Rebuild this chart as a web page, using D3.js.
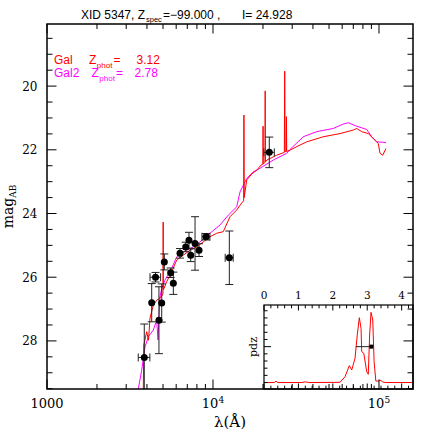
<!DOCTYPE html>
<html><head><meta charset="utf-8">
<script src="https://cdn.jsdelivr.net/npm/d3@7"></script>
<style>body{margin:0;background:#fff}svg{display:block}text{white-space:pre}</style>
</head><body><svg id="c" width="436" height="436"></svg>
<script>
// ---- photometry ----
const photWl    = [3855, 4274, 4505, 4725, 4909, 5090, 5560, 5768, 6327, 6848, 7168, 7340, 7795, 8238, 9080, 12540, 21830];
const photMag   = [28.52, 26.80, 26.00, 27.35, 26.81, 25.52, 25.86, 26.19, 25.25, 25.05, 24.84, 25.31, 24.94, 25.15, 24.73, 25.39, 22.08];
const photErr   = [1.05, 0.60, 0.15, 1.05, 0.60, 0.25, 0.15, 0.35, 0.15, 0.15, 0.25, 0.20, 0.84, 0.20, 0.10, 0.84, 0.48];
const photWlErr = [310, 0, 330, 0, 0, 0, 0, 0, 0, 0, 0, 0, 0, 0, 500, 700, 1580];

// ---- model Gal (red) ----
const galWl  = [3803,3830,3987,4088,4174,4369,4580,4748,4963,4995,5010,5025,5261,5640,6044,6624,7269,7977,8743,9592,10527,11535,12660,13890,14890,15300,15356,15420,15960,17105,18337,19465,19980,20027,20075,20560,20629,20700,21151,24190,26900,27040,27180,27600,27700,27800,29100,33430,36690,46180,58230,70000,73380,78660,86200,94600,99030,101400,105270,110200];
const galMag = [29.51,28.13,27.71,27.98,27.28,26.88,26.72,26.67,26.56,26.52,24.27,26.40,26.14,25.83,25.46,25.31,25.15,25.05,24.89,24.73,24.62,24.57,24.10,23.89,23.67,23.60,20.91,23.50,22.95,22.76,22.64,22.48,22.45,21.26,22.44,22.40,20.15,22.38,22.32,22.17,22.08,19.53,22.06,22.05,20.96,22.05,22.01,21.85,21.75,21.59,21.49,21.38,21.33,21.43,21.49,21.70,21.80,22.11,22.17,21.96];

// ---- model Gal2 (magenta) ----
const gal2Wl  = [3548,3720,3894,4076,4369,4580,4663,4709,4795,4909,5138,5640,6044,6942,7607,8351,9592,11020,12370,13890,14550,15960,17420,19190,23090,27800,29100,34990,42140,53050,60950,65340,73380,84330,90370,96850,110200];
const gal2Mag = [29.51,28.92,28.19,27.87,27.66,27.35,27.97,27.41,26.62,26.35,26.09,25.72,25.36,25.15,25.05,24.89,24.62,24.36,24.05,23.79,23.32,22.90,22.70,22.58,22.32,22.11,21.99,21.59,21.43,21.33,21.19,21.15,21.26,21.36,21.59,21.75,21.77];

// ---- pdz ----
const pdzZ = [0,0.30,0.35,0.40,1.10,1.20,1.30,2.21,2.355,2.48,2.55,2.645,2.71,2.77,2.82,2.84,2.90,2.985,3.03,3.07,3.11,3.16,3.20,3.25,3.32,3.37,3.45,3.52,4.33];
const pdzP = [0,0,0.02,0,0,0.01,0,0.003,0.081,0.235,0.175,0.338,0.662,0.903,0.755,0.43,0.407,0.151,0.115,0.662,0.978,0.871,0.29,0.021,0.02,0.035,0.01,0,0];
const zBest = 3.12, zLow = 2.67, zHigh = 3.15, zBarLevel = 0.5;

// ---- labels ----
const xMajor = [1000, 10000, 100000];
const xMajorLabels = [["1000",""],["10","4"],["10","5"]];
const yMajor = [20, 22, 24, 26, 28];
const insetMajor = [0, 1, 2, 3, 4];

const svg = d3.select("#c");
const L = 47, R = 413, T = 24, B = 389;
const x = d3.scaleLog().domain([1000, 160260]).range([L, R]);
const y = d3.scaleLinear().domain([18.05, 29.51]).range([T, B]);

const SERIF = "DejaVu Serif, serif", SANS = "Liberation Sans, Arial, sans-serif";

svg.append("clipPath").attr("id","clip").append("rect").attr("x",L).attr("y",T).attr("width",R-L).attr("height",B-T);
const plot = svg.append("g").attr("clip-path","url(#clip)");

const line = d3.line().x(d=>x(d[0])).y(d=>y(d[1]));
plot.append("path").datum(gal2Wl.map((w,i)=>[w,gal2Mag[i]])).attr("d",line)
  .attr("fill","none").attr("stroke","#ff00ff").attr("stroke-width",1);
plot.append("path").datum(galWl.map((w,i)=>[w,galMag[i]])).attr("d",line)
  .attr("fill","none").attr("stroke","#ff0000").attr("stroke-width",1);

// error bars + points
const ph = photWl.map((w,i)=>({w, m:photMag[i], e:photErr[i], we:photWlErr[i]}));
const eg = plot.append("g").attr("stroke","#222").attr("stroke-width",1);
ph.forEach(d=>{
  const cx = x(d.w), cy = y(d.m);
  if (d.e > 0) {
    eg.append("line").attr("x1",cx).attr("x2",cx).attr("y1",y(d.m-d.e)).attr("y2",y(d.m+d.e));
    eg.append("line").attr("x1",cx-4).attr("x2",cx+4).attr("y1",y(d.m-d.e)).attr("y2",y(d.m-d.e));
    eg.append("line").attr("x1",cx-4).attr("x2",cx+4).attr("y1",y(d.m+d.e)).attr("y2",y(d.m+d.e));
  }
  if (d.we > 0) {
    const x1 = x(d.w-d.we), x2 = x(d.w+d.we);
    eg.append("line").attr("x1",x1).attr("x2",x2).attr("y1",cy).attr("y2",cy);
    eg.append("line").attr("x1",x1).attr("x2",x1).attr("y1",cy-4).attr("y2",cy+4);
    eg.append("line").attr("x1",x2).attr("x2",x2).attr("y1",cy-4).attr("y2",cy+4);
  }
});
plot.append("g").selectAll("circle").data(ph).join("circle")
  .attr("cx",d=>x(d.w)).attr("cy",d=>y(d.m)).attr("r",3.5).attr("fill","#000");

// ---- inset ----
const IL = 264, IR = 413, IT = 305, IB = 389;
const xi = d3.scaleLinear().domain([0, 4.33]).range([IL, IR]);
const yi = d3.scaleLinear().domain([-0.09, 1.08]).range([IB, IT]);
svg.append("rect").attr("x",IL).attr("y",IT).attr("width",IR-IL).attr("height",IB-IT).attr("fill","#fff");
svg.append("path").datum(pdzZ.map((z,i)=>[z,pdzP[i]]))
  .attr("d", d3.line().x(d=>xi(d[0])).y(d=>yi(d[1])))
  .attr("fill","none").attr("stroke","#ff0000").attr("stroke-width",1);
svg.append("line").attr("x1",xi(zLow)).attr("x2",xi(zHigh)).attr("y1",yi(zBarLevel)).attr("y2",yi(zBarLevel))
  .attr("stroke","#222").attr("stroke-width",1);
svg.append("rect").attr("x",xi(zBest)-2).attr("y",yi(zBarLevel)-2).attr("width",4).attr("height",4).attr("fill","#000");
const it = svg.append("g").attr("stroke","#000").attr("stroke-width",1);
d3.range(0, 4.33, 0.2).forEach(v=>{
  const maj = Math.abs(v-Math.round(v))<1e-6;
  const len = maj ? 5.5 : 3.3, px = xi(v);
  it.append("line").attr("x1",px).attr("x2",px).attr("y1",IT).attr("y2",IT+len);
  it.append("line").attr("x1",px).attr("x2",px).attr("y1",IB).attr("y2",IB-len);
});
d3.range(0, 1.0001, 0.1).forEach(v=>{
  const maj = Math.abs(v-0.5)<1e-6;
  const len = maj ? 7 : 3.5, py = yi(v);
  it.append("line").attr("x1",IL).attr("x2",IL+len).attr("y1",py).attr("y2",py);
});
svg.append("rect").attr("x",IL).attr("y",IT).attr("width",IR-IL).attr("height",IB-IT)
  .attr("fill","none").attr("stroke","#000").attr("stroke-width",1.2);
svg.append("g").selectAll("text").data(insetMajor).join("text")
  .attr("x",d=>xi(d)).attr("y",298.5).attr("text-anchor","middle")
  .attr("font-family",SERIF).attr("font-size",10.5).text(d=>d);
svg.append("text").attr("transform","translate(256.5,347) rotate(-90)").attr("text-anchor","middle")
  .attr("font-family",SERIF).attr("font-size",11).text("pdz");

// ---- main ticks & frame ----
const tg = svg.append("g").attr("stroke","#000").attr("stroke-width",1);
[1000,10000,100000].forEach(dec=>{
  for (let k=1;k<=9;k++){
    const v = k*dec; if (v > 160260) break;
    const px = x(v), len = k===1 ? 9.5 : 5;
    tg.append("line").attr("x1",px).attr("x2",px).attr("y1",B).attr("y2",B-len);
    tg.append("line").attr("x1",px).attr("x2",px).attr("y1",T).attr("y2",T+len);
  }
});
d3.range(18.5, 29.51, 0.5).forEach(v=>{
  const maj = Math.abs(v/2-Math.round(v/2))<1e-6;
  const len = maj ? 9.5 : 5.5, py = y(v);
  tg.append("line").attr("x1",L).attr("x2",L+len).attr("y1",py).attr("y2",py);
  tg.append("line").attr("x1",R).attr("x2",R-len).attr("y1",py).attr("y2",py);
});
svg.append("rect").attr("x",L).attr("y",T).attr("width",R-L).attr("height",B-T)
  .attr("fill","none").attr("stroke","#000").attr("stroke-width",1.5);

// x labels
xMajor.forEach((v,i)=>{
  const t = svg.append("text").attr("x",x(v)).attr("y",407.5).attr("text-anchor","middle")
    .attr("font-family",SERIF).attr("font-size",13);
  t.append("tspan").text(xMajorLabels[i][0]);
  if (xMajorLabels[i][1]) t.append("tspan").attr("dy",-5).attr("font-size",9).text(xMajorLabels[i][1]);
});
svg.append("g").selectAll("text").data(yMajor).join("text")
  .attr("x",37.5).attr("y",d=>y(d)+4.4).attr("text-anchor","end")
  .attr("font-family",SERIF).attr("font-size",12).text(d=>d);

// axis titles
svg.append("text").attr("x",230).attr("y",427).attr("text-anchor","middle")
  .attr("font-family",SERIF).attr("font-size",15).text("λ(Å)");
const yt = svg.append("text").attr("transform","translate(12.5,206.5) rotate(-90)").attr("text-anchor","middle")
  .attr("font-family",SERIF).attr("font-size",14);
yt.append("tspan").text("mag");
yt.append("tspan").attr("dy",3).attr("font-size",9).text("AB");

// title
const tt = svg.append("text").attr("y",19).attr("font-family",SANS).attr("font-size",12).attr("fill","#000");
tt.append("tspan").attr("x",81).text("XID 5347, Z");
tt.append("tspan").attr("x",146).attr("dy",3).attr("font-size",7.5).text("spec");
tt.append("tspan").attr("x",163).attr("dy",-3).text("=−99.000 ,");
tt.append("tspan").attr("x",242).text("I= 24.928");

// legend
function legend(yb, color, name, zx, val, vx){
  const t = svg.append("text").attr("y",yb).attr("font-family",SANS).attr("font-size",12).attr("fill",color);
  t.append("tspan").attr("x",54).text(name);
  t.append("tspan").attr("x",zx).text("Z");
  t.append("tspan").attr("x",zx+7.8).attr("dy",3.5).attr("font-size",8).text("phot");
  t.append("tspan").attr("x",zx+24.5).attr("dy",-3.5).text("=");
  t.append("tspan").attr("x",vx).text(val);
}
legend(64, "#ff0000", "Gal", 89, "3.12", 136.5);
legend(77, "#ff00ff", "Gal2", 91.5, "2.78", 134.5);
</script></body></html>
